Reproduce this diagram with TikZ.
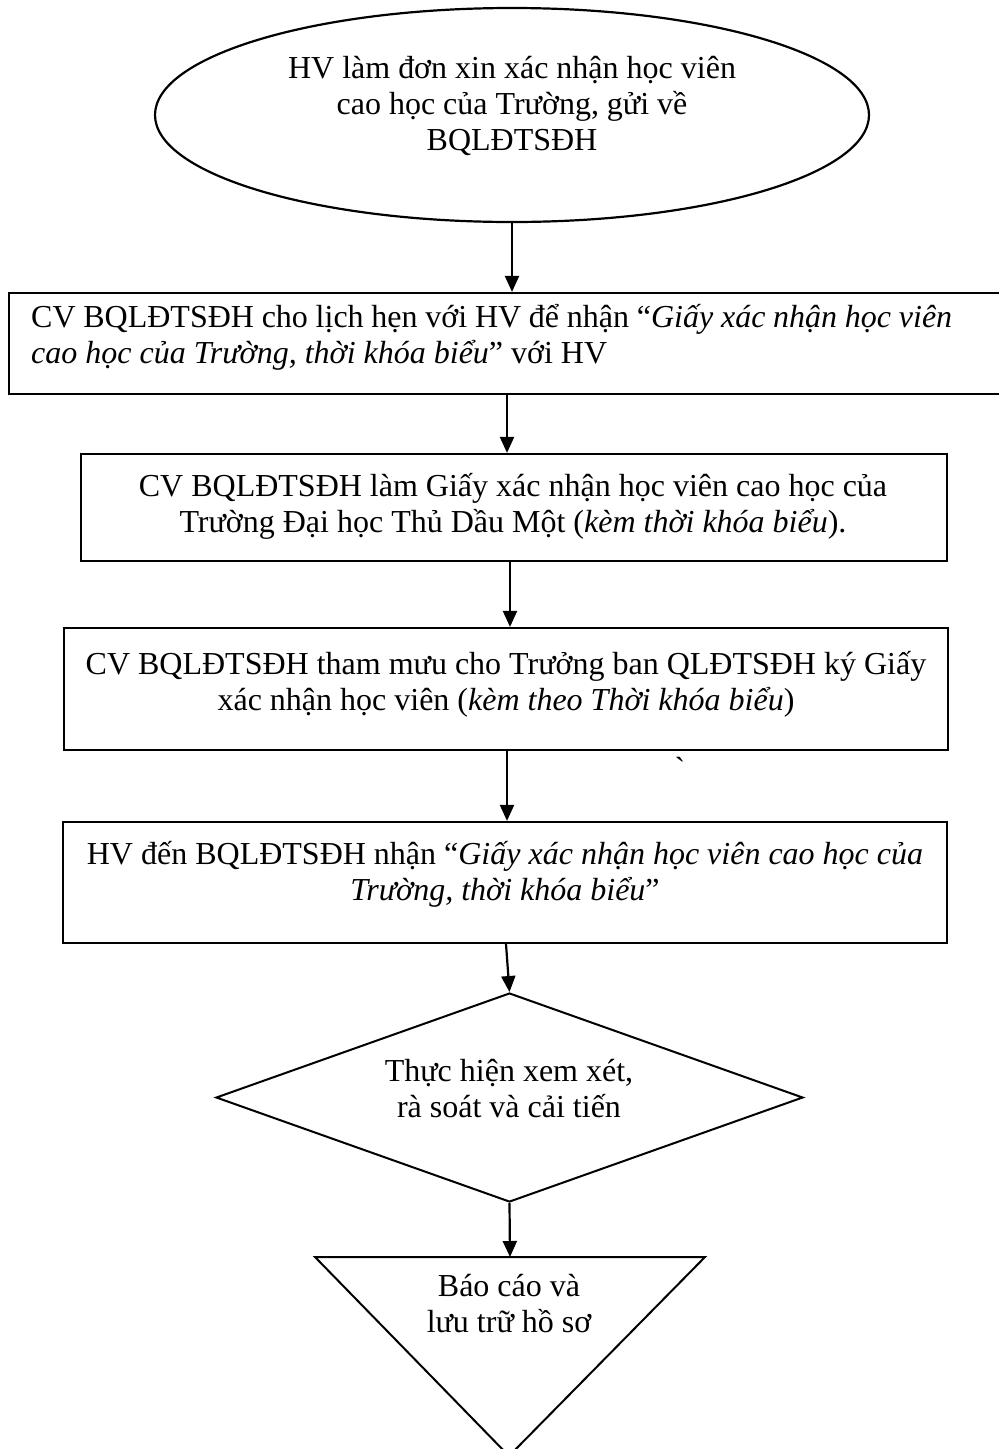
\documentclass[tikz,border=0pt]{standalone}
\usepackage{fontspec}
\setmainfont{Liberation Serif}
\newfontfamily\gravefont{Liberation Serif}
\usetikzlibrary{arrows.meta,shapes.geometric}
\begin{document}
\begin{tikzpicture}[x=1pt,y=-1pt,
  box/.style={draw,line width=2.2pt,rectangle,inner sep=0pt},
  lbl/.style={font=\fontsize{32}{36}\selectfont, align=center, inner sep=0pt, anchor=base},
  arr/.style={line width=2.2pt,-{Triangle[length=16pt,width=14pt]}}]
\useasboundingbox (0,0) rectangle (999,1449);
% shapes
\node[draw,ellipse,line width=2.2pt,minimum width=714pt,minimum height=214pt,inner sep=0pt] (e) at (512,115) {};
\node[box,minimum width=994pt,minimum height=101pt] (b2) at (506,343.5) {};
\node[box,minimum width=866pt,minimum height=107pt] (b3) at (514,507.5) {};
\node[box,minimum width=884pt,minimum height=122pt] (b4) at (506,689) {};
\node[box,minimum width=884pt,minimum height=121pt] (b5) at (505,882.5) {};
\node[draw,diamond,line width=2pt,minimum width=587pt,minimum height=209pt,inner sep=0pt] (d) at (509.5,1097.5) {};
\coordinate (tt) at (510,1257);
\draw[line width=2pt,line join=miter] (315,1257) -- (705,1257) -- (509,1456) -- cycle;
% texts (base anchor = baseline of last line)
\node[lbl] (te) at (512,150) {HV làm đơn xin xác nhận học viên\\cao học của Trường, gửi về\\BQLĐTSĐH};
\node[lbl,anchor=base west,align=left] (t2) at (31,363) {\makebox[921pt][s]{CV BQLĐTSĐH cho lịch hẹn với HV để nhận “\textit{Giấy xác nhận học viên}}\\\textit{cao học của Trường, thời khóa biểu}” với HV};
\node[lbl] (t3) at (513,532) {CV BQLĐTSĐH làm Giấy xác nhận học viên cao học của\\Trường Đại học Thủ Dầu Một (\textit{kèm thời khóa biểu}).};
\node[lbl] (t4) at (506,710) {CV BQLĐTSĐH tham mưu cho Trưởng ban QLĐTSĐH ký Giấy\\xác nhận học viên (\textit{kèm theo Thời khóa biểu})};
\node[lbl] (t5) at (505,900) {HV đến BQLĐTSĐH nhận “\textit{Giấy xác nhận học viên cao học của}\\\textit{Trường, thời khóa biểu}”};
\node[lbl] (td) at (509,1117) {Thực hiện xem xét,\\rà soát và cải tiến};
\node[lbl] (tt2) at (509,1332) {Báo cáo và\\lưu trữ hồ sơ};
\node[font=\gravefont\fontsize{32}{36}\selectfont,inner sep=0pt] (g) at (680,768) {`};
% connectors
\draw[arr] (e.south) -- (e.south |- b2.north);
\draw[arr] ([xshift=1pt]b2.south) -- ([xshift=1pt]b2.south |- b3.north);
\draw[arr] ([xshift=-4pt]b3.south) -- ([xshift=-4pt]b3.south |- b4.north);
\draw[arr] ([xshift=1pt]b4.south) -- ([xshift=1pt]b4.south |- b5.north);
\draw[arr] ([xshift=1pt]b5.south) -- (d.north);
\draw[arr] (d.south) -- (tt);
\end{tikzpicture}
\end{document}
